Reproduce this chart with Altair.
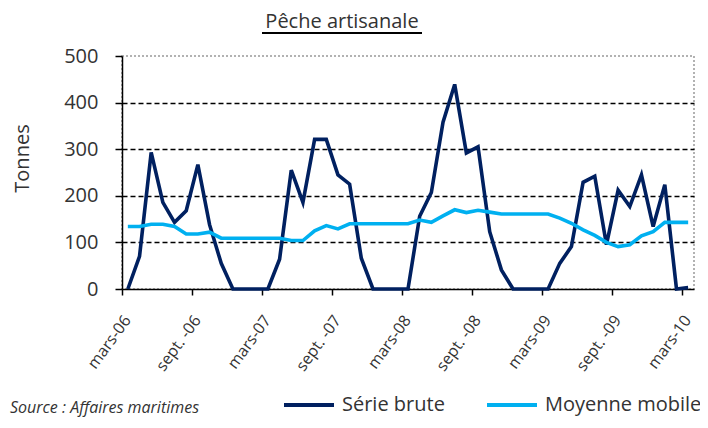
import altair as alt
import pandas as pd

# ---- data ----
tick_labels = ["mars-06", "sept. -06", "mars-07", "sept. -07", "mars-08",
               "sept. -08", "mars-09", "sept. -09", "mars-10"]
series_names = ["Série brute", "Moyenne mobile"]
serie_brute = [0, 70, 293, 186, 143, 168, 267, 138, 55, 0,
               0, 0, 0, 64, 255, 186, 321, 321, 245, 225,
               66, 0, 0, 0, 0, 156, 207, 358, 439, 292,
               305, 123, 41, 0, 0, 0, 0, 55, 91, 229,
               242, 95, 212, 177, 245, 134, 224, 0, 3]
moyenne_mobile = [134, 134, 139, 139, 134, 118, 118, 122, 109, 109,
                  109, 109, 109, 109, 104, 104, 125, 136, 129, 140,
                  140, 140, 140, 140, 140, 148, 143, 157, 170, 164,
                  169, 165, 161, 161, 161, 161, 161, 152, 141, 127,
                  115, 100, 91, 95, 114, 123, 143, 143, 143]

n = len(serie_brute)
rows = []
for i in range(n):
    rows.append({"mois": i, "serie": series_names[0], "valeur": serie_brute[i]})
for i in range(n):
    rows.append({"mois": i, "serie": series_names[1], "valeur": moyenne_mobile[i]})
df = pd.DataFrame(rows)

FONT = "Open Sans"
TXT = "#333333"
label_expr = "[" + ",".join(f"'{l}'" for l in tick_labels) + "][datum.value / 6]"

lines = alt.Chart(df).transform_calculate(
    pos="datum.mois + 0.5"
).mark_line(strokeWidth=3.6, strokeJoin="miter").encode(
    x=alt.X("pos:Q",
            scale=alt.Scale(domain=[0, n], nice=False, zero=False),
            axis=alt.Axis(values=list(range(0, n, 6)), labelExpr=label_expr,
                          labelAngle=-54, labelAlign="right", labelBaseline="middle",
                          labelFontSize=16, labelColor=TXT, labelFont=FONT,
                          labelPadding=22, labelOffset=5, tickSize=6, tickColor="black",
                          tickWidth=1.5,
                          domainColor="black", domainWidth=1.5, grid=False,
                          title=None)),
    y=alt.Y("valeur:Q",
            scale=alt.Scale(domain=[0, 500], nice=False),
            axis=alt.Axis(values=[0, 100, 200, 300, 400, 500], tickSize=7,
                          tickColor="black", tickWidth=1.5,
                          domainColor="black", domainWidth=1.5,
                          labelFontSize=20, labelColor=TXT, labelFont=FONT,
                          labelPadding=17,
                          grid=True, gridColor="black", gridDash=[5, 3], gridWidth=1.3,
                          gridOpacity=alt.condition("datum.value == 0 || datum.value == 500",
                                                    alt.value(0), alt.value(1)),
                          title="Tonnes", titleFontSize=20, titleFont=FONT,
                          titleColor=TXT, titleFontWeight="normal",
                          titleAngle=-90, titleX=-100, titleY=102, titleAlign="center",
                          titleBaseline="middle")),
    color=alt.Color("serie:N",
                    scale=alt.Scale(domain=series_names, range=["#002060", "#00B0F0"]),
                    sort=series_names,
                    legend=alt.Legend(orient="none", direction="horizontal",
                                      legendX=160, legendY=322, title=None,
                                      symbolType="stroke", symbolSize=2500,
                                      symbolStrokeWidth=4, labelFontSize=20,
                                      labelFont=FONT, labelColor=TXT,
                                      labelOffset=6, columnPadding=34)),
    detail="serie:N",
)

title = alt.Chart(pd.DataFrame({"t": ["Pêche artisanale"]})).mark_text(
    font=FONT, fontSize=20, color=TXT, align="center", baseline="alphabetic"
).encode(text="t:N", x=alt.value(220), y=alt.value(-28))

underline = alt.Chart(pd.DataFrame({"t": [1]})).mark_rule(
    color="black", strokeWidth=2
).encode(x=alt.value(140), x2=alt.value(300), y=alt.value(-23))

source = alt.Chart(pd.DataFrame({"t": ["Source : Affaires maritimes"]})).mark_text(
    font=FONT, fontSize=16, fontStyle="italic", color=TXT, align="left",
    baseline="alphabetic"
).encode(text="t:N", x=alt.value(-112), y=alt.value(357))

chart = alt.layer(lines, title, underline, source).properties(
    width=572, height=233,
    autosize=alt.AutoSizeParams(type="none"),
    padding={"left": 114, "top": 48, "right": 6, "bottom": 130},
).configure_view(
    stroke="#999999", strokeDash=[2, 2], strokeWidth=1.5
)

chart.save("out.html", embed_options={"renderer": "svg", "actions": False})
